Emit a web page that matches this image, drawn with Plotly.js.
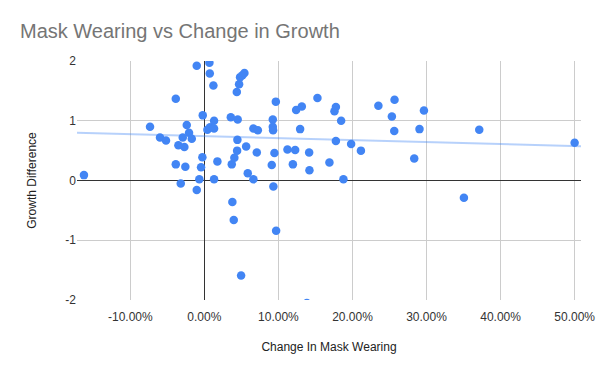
<!DOCTYPE html>
<html>
<head>
<meta charset="utf-8">
<script src="https://cdn.plot.ly/plotly-3.0.1.min.js"></script>
<style>html,body{margin:0;padding:0;background:#fff;}#chart{width:600px;height:371px;}</style>
</head>
<body>
<div id="chart"></div>
<script>
// Change in mask wearing (fraction) and growth difference
const maskChange = [
  -0.1626, -0.0734, -0.0599, -0.0518, -0.0386, -0.0351, -0.0386, -0.0319, -0.0292, -0.0270,
  -0.0257, -0.0238, -0.0207, -0.0170, -0.0103, -0.0103, -0.0068, -0.0045, -0.0027, -0.0022,
   0.0041,  0.0077,  0.0068,  0.0073,  0.0122,  0.0131,  0.0131,  0.0131,  0.0176,  0.0357,
   0.0370,  0.0378,  0.0397,  0.0405,  0.0438,  0.0442,  0.0446,  0.0450,  0.0469,  0.0482,
   0.0496,  0.0514,  0.0541,  0.0564,  0.0586,  0.0662,  0.0662,  0.0708,  0.0722,  0.0910,
   0.0924,  0.0924,  0.0928,  0.0932,  0.0946,  0.0965,  0.0969,  0.1122,  0.1195,  0.1226,
   0.1239,  0.1293,  0.1316,  0.1384,  0.1415,  0.1419,  0.1527,  0.1689,  0.1757,  0.1776,
   0.1776,  0.1847,  0.1878,  0.1982,  0.2114,  0.2350,  0.2532,  0.2564,  0.2568,  0.2834,
   0.2905,  0.2965,  0.3505,  0.3712,  0.5000
];
const growthDiff = [
   0.09,  0.90,  0.72,  0.67,  1.37,  0.59,  0.27, -0.05,  0.72,  0.56,
   0.23,  0.93,  0.80,  0.70,  1.92, -0.16,  0.02,  0.22,  0.39,  1.09,
   0.85,  0.89,  1.97,  1.79,  1.59,  1.00,  0.87,  0.02,  0.32,  1.06,
   0.27, -0.36, -0.66,  0.38,  1.48,  0.50,  0.68,  1.02,  1.61,  1.73,
  -1.59,  1.76,  1.80,  0.57,  0.12,  0.87,  0.02,  0.47,  0.84,  0.26,
   1.02,  0.90,  0.84, -0.10,  0.46,  1.32, -0.84,  0.52,  0.27,  0.51,
   1.18,  0.86,  1.24, -2.05,  0.47,  0.17,  1.38,  0.30,  1.16,  1.23,
   0.66,  1.00,  0.02,  0.61,  0.50,  1.25,  1.07,  0.83,  1.35,  0.37,
   0.86,  1.17, -0.29,  0.85,  0.63
];
// Linear trendline as shown on the chart (values at the two ends of the x axis)
const trendX = [-0.172, 0.5086];
const trendY = [0.80, 0.574];

const xTickVals = [-0.1, 0, 0.1, 0.2, 0.3, 0.4, 0.5];
const xTickText = ['-10.00%', '0.00%', '10.00%', '20.00%', '30.00%', '40.00%', '50.00%'];
const yTickVals = [-2, -1, 0, 1, 2];
const yTickText = ['-2', '-1', '0', '1', '2'];
const xRange = [-0.172, 0.5086];
const yRange = [-2, 2];

const font = 'Arial, "Liberation Sans", sans-serif';

const traces = [
  {
    x: trendX, y: trendY, type: 'scatter', mode: 'lines',
    line: {color: 'rgba(66,133,244,0.38)', width: 2},
    hoverinfo: 'skip', showlegend: false
  },
  {
    x: maskChange, y: growthDiff, type: 'scatter', mode: 'markers',
    marker: {color: '#4285F4', size: 8.5, line: {width: 0}},
    showlegend: false
  }
];

const layout = {
  width: 600, height: 371,
  margin: {l: 77, r: 19, t: 61, b: 71, pad: 0},
  paper_bgcolor: '#ffffff', plot_bgcolor: '#ffffff',
  font: {family: font, color: '#333333', size: 12},
  title: {
    text: 'Mask Wearing vs Change in Growth',
    font: {family: font, size: 20, color: '#757575'},
    x: 0, xref: 'container', xanchor: 'left', y: 1, yref: 'container', yanchor: 'top',
    pad: {t: 24, l: 20}
  },
  xaxis: {
    range: xRange, tickvals: xTickVals, ticktext: xTickText,
    showgrid: true, gridcolor: '#cccccc', gridwidth: 1,
    zeroline: true, zerolinecolor: '#333333', zerolinewidth: 1,
    showline: false, ticks: 'outside', ticklen: 6, tickcolor: 'rgba(0,0,0,0)',
    tickfont: {size: 12, color: '#333333'},
    title: {text: 'Change In Mask Wearing', font: {size: 12, color: '#222222'}, standoff: 19},
    automargin: false
  },
  yaxis: {
    range: yRange, tickvals: yTickVals, ticktext: yTickText,
    showgrid: true, gridcolor: '#cccccc', gridwidth: 1,
    zeroline: true, zerolinecolor: '#333333', zerolinewidth: 1,
    showline: false, ticks: '', tickfont: {size: 12, color: '#333333'},
    title: {text: 'Growth Difference', font: {size: 12, color: '#222222'}, standoff: 26},
    automargin: false
  }
};

Plotly.newPlot('chart', traces, layout, {staticPlot: true, displayModeBar: false});
</script>
</body>
</html>
